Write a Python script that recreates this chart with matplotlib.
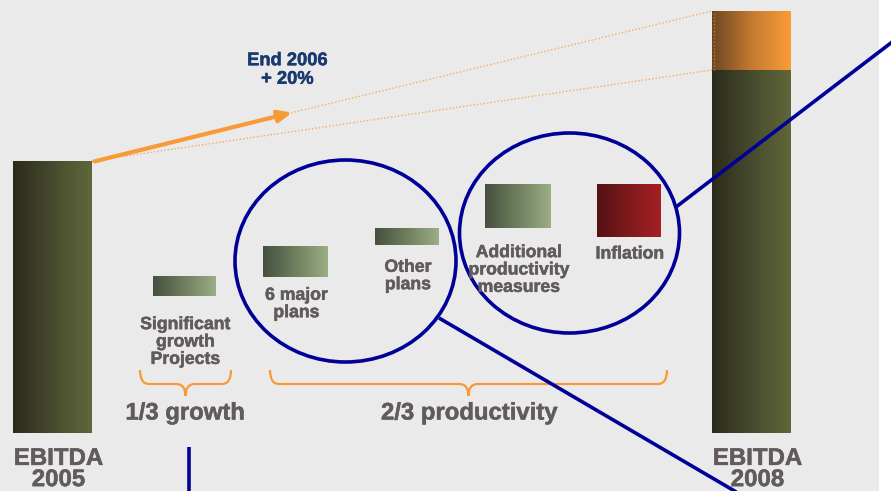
import numpy as np
import matplotlib
matplotlib.use("Agg")
import matplotlib.pyplot as plt
import matplotlib.patheffects as pe
from matplotlib.colors import LinearSegmentedColormap
from matplotlib.path import Path
from matplotlib.patches import PathPatch, Ellipse, FancyBboxPatch

plt.rcParams['font.family'] = ['Liberation Sans', 'DejaVu Sans']

# ---------------------------
# Data (chart units, measured upward from the bottom edge)
# ---------------------------
ebitda_labels = ["EBITDA\n2005", "EBITDA\n2008"]
ebitda_values = [330, 421]          # bar tops
ebitda_base = 58
target_top = 480                    # +20% extension on top of 2008

step_labels = ["Significant\ngrowth\nProjects", "6 major\nplans", "Other\nplans",
               "Additional\nproductivity\nmeasures", "Inflation"]
step_low = [195, 214, 246, 263, 254]
step_high = [215, 245, 263, 307, 307]
step_kind = ["gain", "gain", "gain", "gain", "loss"]

group_labels = ["1/3 growth", "2/3 productivity"]
arrow_label = "End 2006\n+ 20%"

# ---------------------------
# Layout / styles
# ---------------------------
W, H = 891, 491
BG = "#eaeaea"
GREY = "#625b5b"
NAVY = "#000099"
ORANGE = "#f89a36"

ebitda_x = [52.5, 751.5]
ebitda_w = 79
step_x = [184.5, 295.5, 407, 518, 629]
step_w = [63, 65, 64, 66, 64]

cmaps = {
    "olive": LinearSegmentedColormap.from_list("olive", ["#2b2b1b", "#474b2e", "#60673a"]),
    "gain": LinearSegmentedColormap.from_list("gain", ["#455040", "#6f7f5e", "#9bae84"]),
    "loss": LinearSegmentedColormap.from_list("loss", ["#531214", "#7f1a1c", "#a51f24"]),
    "orange": LinearSegmentedColormap.from_list("orange", ["#6c4622", "#c47a30", "#fb9c36"]),
}
grad = np.linspace(0, 1, 256).reshape(1, -1)

fig = plt.figure(figsize=(W / 100, H / 100), dpi=100)
fig.patch.set_facecolor("white")
ax = fig.add_axes([0, 0, 1, 1])
ax.axis('off')

# slide background with rounded corner
ax.add_patch(FancyBboxPatch((-40, -40 + 12), W + 40 - 12, H + 80 - 12,
                            boxstyle="round,pad=0,rounding_size=22",
                            facecolor=BG, edgecolor="none", zorder=0))

# slightly heavier strokes for the bold labels
def heavy(color):
    return [pe.withStroke(linewidth=0.35, foreground=color)]


def gradient_bar(xc, w, y0, y1, cmap):
    ax.imshow(grad, cmap=cmap, aspect='auto', interpolation='bilinear',
              extent=(xc - w / 2, xc + w / 2, y0, y1), zorder=2)


# EBITDA bars
for xc, top in zip(ebitda_x, ebitda_values):
    gradient_bar(xc, ebitda_w, ebitda_base, top, cmaps["olive"])
gradient_bar(ebitda_x[1], ebitda_w, ebitda_values[1], target_top, cmaps["orange"])

# step bars
for xc, w, lo, hi, kind in zip(step_x, step_w, step_low, step_high, step_kind):
    gradient_bar(xc, w, lo, hi, cmaps[kind])

# labels under bars
for xc, lab in zip(ebitda_x, ebitda_labels):
    ax.text(xc + 6, 22, lab, ha='center', va='center', fontsize=17.3,
            fontweight='bold', color=GREY, linespacing=0.9, zorder=5,
            path_effects=heavy(GREY))

step_text_y = [149, 187, 215, 221, 237]
for xc, ty, lab in zip(step_x, step_text_y, step_labels):
    ax.text(xc + 1, ty, lab, ha='center', va='center', fontsize=12.7,
            fontweight='bold', color=GREY, linespacing=1.03, zorder=5,
            path_effects=heavy(GREY))

# ---------------------------
# +20% projection lines
# ---------------------------
x_l = ebitda_x[0] + ebitda_w / 2
x_r = ebitda_x[1] - ebitda_w / 2
dot_kw = dict(color="#f6ad5a", lw=1.0, ls=(0, (1, 1.5)), zorder=3)
ax.plot([x_l, x_r], [ebitda_values[0], target_top], **dot_kw)
ax.plot([x_l, x_r], [ebitda_values[0], ebitda_values[1]], **dot_kw)
ax.plot([x_r + 1.5, x_r + 1.5], [ebitda_values[1], target_top],
        color="#c77a35", lw=1.0, ls=(0, (1, 1.5)), zorder=4)

t = 0.327
ax.annotate("", xy=(x_l + t * (x_r - x_l), ebitda_values[0] + t * (target_top - ebitda_values[0])),
            xytext=(x_l, ebitda_values[0] - 1),
            arrowprops=dict(arrowstyle="-|>,head_length=0.8,head_width=0.35",
                            color=ORANGE, lw=3), zorder=4)
ax.text(287.5, H - 70, arrow_label, ha='center', va='center', fontsize=13.2,
        fontweight='bold', color="#1a3a6e", linespacing=1.12, zorder=5,
        path_effects=heavy("#1a3a6e"))

# ---------------------------
# Braces
# ---------------------------
def brace(x0, x1, y_top=121, y_mid=107, y_tip=95, r=9):
    xc = (x0 + x1) / 2
    verts = [(x0, y_top), (x0, y_mid), (x0 + r, y_mid),
             (xc - r, y_mid), (xc, y_mid), (xc, y_tip),
             (xc, y_mid), (xc + r, y_mid),
             (x1 - r, y_mid), (x1, y_mid), (x1, y_top)]
    codes = [Path.MOVETO, Path.CURVE3, Path.CURVE3,
             Path.LINETO, Path.CURVE3, Path.CURVE3,
             Path.CURVE3, Path.CURVE3,
             Path.LINETO, Path.CURVE3, Path.CURVE3]
    ax.add_patch(PathPatch(Path(verts, codes), facecolor='none',
                           edgecolor=ORANGE, lw=1.6, zorder=3))


brace(140, 231)
brace(270, 667)
ax.text(185, H - 413, group_labels[0], ha='center', va='center', fontsize=17.2,
        fontweight='bold', color=GREY, zorder=5, path_effects=heavy(GREY))
ax.text(469, H - 413, group_labels[1], ha='center', va='center', fontsize=17.2,
        fontweight='bold', color=GREY, zorder=5, path_effects=heavy(GREY))

# ---------------------------
# Circles and connectors
# ---------------------------
ax.add_patch(Ellipse((345.5, H - 261), 221, 202, facecolor='none',
                     edgecolor=NAVY, lw=2.6, zorder=4))
ax.add_patch(Ellipse((569.5, H - 233), 220, 200, facecolor='none',
                     edgecolor=NAVY, lw=2.6, zorder=4))
ax.plot([676, 900], [H - 207, H - 36], color=NAVY, lw=2.6, zorder=4,
        solid_capstyle='butt')
ax.plot([439, 738], [H - 318, H - 493], color=NAVY, lw=2.6, zorder=4,
        solid_capstyle='butt')
ax.plot([189, 189], [H - 447, -5], color=NAVY, lw=2.6, zorder=4,
        solid_capstyle='butt')

ax.set_xlim(0, W)
ax.set_ylim(0, H)

plt.savefig("out.png", dpi=100, facecolor=fig.get_facecolor())
